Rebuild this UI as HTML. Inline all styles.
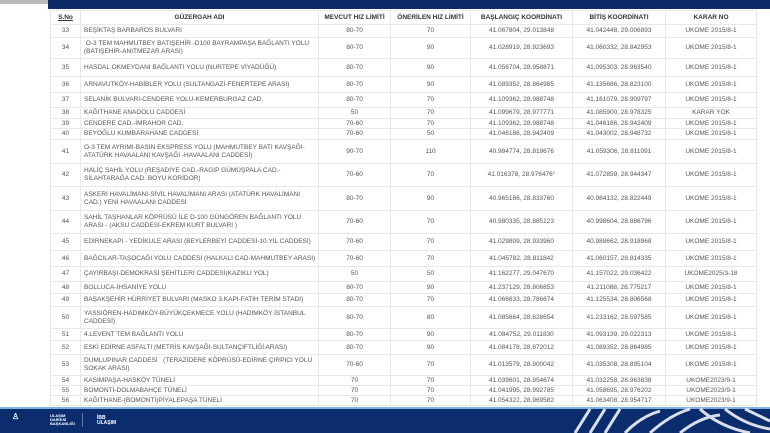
<!DOCTYPE html>
<html><head><meta charset="utf-8"><style>
*{margin:0;padding:0;box-sizing:border-box}
body{width:770px;height:433px;overflow:hidden;background:#fff;font-family:"Liberation Sans",sans-serif;position:relative}
.topg{position:absolute;left:0;top:0;width:48px;height:4px;background:#bbb}
.top{position:absolute;left:48px;top:0;width:722px;height:9px;background:#0d2b66}
table{position:absolute;left:50px;top:10px;border-collapse:collapse;table-layout:fixed;width:706px}
td,th{border:1px solid #e8e8e8;font-size:6.5px;color:#555;text-align:center;vertical-align:middle;line-height:8px;padding:0 2px;overflow:hidden;white-space:nowrap}
th{color:#333;font-weight:bold}
td.n{text-align:left;padding-left:3px}
.foot{position:absolute;left:0;top:407px;width:770px;height:26px;background:#0b2d6e}
.foot .c{position:absolute;left:0;top:0;width:770px;height:2px;background:#7fb3e0}
.logo{position:absolute;color:#fff;font-size:4px;font-weight:bold;line-height:4px}
</style></head><body>
<div class="topg"></div><div class="top"></div>
<table>
<colgroup><col style="width:30px"><col style="width:238px"><col style="width:72px"><col style="width:80px"><col style="width:102px"><col style="width:93px"><col style="width:91px"></colgroup>
<tr style="height:14px"><th><u>S.No</u></th><th>GÜZERGAH ADI</th><th>MEVCUT HIZ LİMİTİ</th><th>ÖNERİLEN HIZ LİMİTİ</th><th>BAŞLANGIÇ KOORDİNATI</th><th>BİTİŞ KOORDİNATI</th><th>KARAR NO</th></tr>
<tr style="height:13px"><td>33</td><td class="n">BEŞİKTAŞ BARBAROS BULVARI</td><td>80-70</td><td>70</td><td>41.067804, 29.013848</td><td>41.042448, 29.006893</td><td>UKOME 2015/8-1</td></tr>
<tr style="height:21px"><td>34</td><td class="n">&nbsp;O-3 TEM MAHMUTBEY BATIŞEHİR -D100 BAYRAMPAŞA BAĞLANTI YOLU<br>(BATIŞEHİR-ANITMEZAR ARASI)</td><td>80-70</td><td>90</td><td>41.028919, 28.923693</td><td>41.060332, 28.842953</td><td>UKOME 2015/8-1</td></tr>
<tr style="height:18px"><td>35</td><td class="n">HASDAL OKMEYDANI BAĞLANTI YOLU (NURTEPE VİYADÜĞÜ)</td><td>80-70</td><td>90</td><td>41.056704, 28.958871</td><td>41.095303, 28.963540</td><td>UKOME 2015/8-1</td></tr>
<tr style="height:16px"><td>36</td><td class="n">ARNAVUTKÖY-HABİBLER YOLU (SULTANGAZİ-FENERTEPE ARASI)</td><td>80-70</td><td>90</td><td>41.089352, 28.864985</td><td>41.135686, 28.823100</td><td>UKOME 2015/8-1</td></tr>
<tr style="height:15px"><td>37</td><td class="n">SELANİK BULVARI-CENDERE YOLU-KEMERBURGAZ CAD.</td><td>80-70</td><td>70</td><td>41.109362, 28.988748</td><td>41.161079, 28.909797</td><td>UKOME 2015/8-1</td></tr>
<tr style="height:11px"><td>38</td><td class="n">KAĞITHANE ANADOLU CADDESİ</td><td>50</td><td>70</td><td>41.099679, 28.977771</td><td>41.085900, 28.978325</td><td>KARAR YOK</td></tr>
<tr style="height:10px"><td>39</td><td class="n">CENDERE CAD.-İMRAHOR CAD.</td><td>70-60</td><td>70</td><td>41.109362, 28.988748</td><td>41.046186, 28.942409</td><td>UKOME 2015/8-1</td></tr>
<tr style="height:11px"><td>40</td><td class="n">BEYOĞLU KUMBARAHANE CADDESİ</td><td>70-60</td><td>50</td><td>41.046186, 28.942409</td><td>41.043002, 28.948732</td><td>UKOME 2015/8-1</td></tr>
<tr style="height:24px"><td>41</td><td class="n">O-3 TEM AYRIMI-BASIN EKSPRESS YOLU (MAHMUTBEY BATI KAVŞAĞI-<br>ATATÜRK HAVAALANI KAVŞAĞI -HAVAALANI CADDESİ)</td><td>90-70</td><td>110</td><td>40.984774, 28.819676</td><td>41.059306, 28.811091</td><td>UKOME 2015/8-1</td></tr>
<tr style="height:23px"><td>42</td><td class="n">HALİÇ SAHİL YOLU (REŞADİYE CAD.-RAGIP GÜMÜŞPALA CAD.-<br>SİLAHTARAĞA CAD. BOYU KORİDOR)</td><td>70-60</td><td>70</td><td>41.016378, 28.976476°</td><td>41.072859, 28.944347</td><td>UKOME 2015/8-1</td></tr>
<tr style="height:24px"><td>43</td><td class="n">ASKERİ HAVALİMANI-SİVİL HAVALİMANI ARASI (ATATÜRK HAVALİMANI<br>CAD.) YENİ HAVAALANI CADDESİ</td><td>80-70</td><td>90</td><td>40.965166, 28.833760</td><td>40.984132, 28.822449</td><td>UKOME 2015/8-1</td></tr>
<tr style="height:23px"><td>44</td><td class="n">SAHİL TAŞHANLAR KÖPRÜSÜ İLE D-100 GÜNGÖREN BAĞLANTI YOLU<br>ARASI - (AKSU CADDESİ-EKREM KURT BULVARI )</td><td>70-60</td><td>70</td><td>40.980335, 28.885123</td><td>40.998604, 28.886796</td><td>UKOME 2015/8-1</td></tr>
<tr style="height:17px"><td>45</td><td class="n">EDİRNEKAPI - YEDİKULE ARASI (BEYLERBEYİ CADDESİ-10.YIL CADDESİ)</td><td>70-60</td><td>70</td><td>41.029809, 28.933960</td><td>40.988662, 28.918968</td><td>UKOME 2015/8-1</td></tr>
<tr style="height:16px"><td>46</td><td class="n">BAĞCILAR-TAŞOCAĞI YOLU CADDESİ (HALKALI CAD-MAHMUTBEY ARASI)</td><td>70-60</td><td>70</td><td>41.045782, 28.811842</td><td>41.060157, 28.814335</td><td>UKOME 2015/8-1</td></tr>
<tr style="height:15px"><td>47</td><td class="n">ÇAYIRBAŞI-DEMOKRASİ ŞEHİTLERİ CADDESİ(KAZIKLI YOL)</td><td>50</td><td>50</td><td>41.162277, 29.047670</td><td>41.157022, 29.036422</td><td>UKOME2025/3-18</td></tr>
<tr style="height:12px"><td>48</td><td class="n">BOLLUCA-İHSANİYE YOLU</td><td>80-70</td><td>90</td><td>41.237129, 28.806853</td><td>41.211088, 28.775217</td><td>UKOME 2015/8-1</td></tr>
<tr style="height:13px"><td>49</td><td class="n">BAŞAKŞEHİR HÜRRİYET BULVARI (MASKO 3.KAPI-FATİH TERİM STADI)</td><td>80-70</td><td>70</td><td>41.066633, 28.786674</td><td>41.125534, 28.806568</td><td>UKOME 2015/8-1</td></tr>
<tr style="height:22px"><td>50</td><td class="n">YASSIÖREN-HADIMKÖY-BÜYÜKÇEKMECE YOLU (HADIMKÖY İSTANBUL<br>CADDESİ)</td><td>80-70</td><td>80</td><td>41.085664, 28.628654</td><td>41.233162, 28.597585</td><td>UKOME 2015/8-1</td></tr>
<tr style="height:12px"><td>51</td><td class="n">4.LEVENT TEM BAĞLANTI YOLU</td><td>80-70</td><td>90</td><td>41.084752, 29.011830</td><td>41.093139, 29.022313</td><td>UKOME 2015/8-1</td></tr>
<tr style="height:14px"><td>52</td><td class="n">ESKİ EDİRNE ASFALTI (METRİS KAVŞAĞI-SULTANÇİFTLİĞİ ARASI)</td><td>80-70</td><td>90</td><td>41.084178, 28.872012</td><td>41.089352, 28.864985</td><td>UKOME 2015/8-1</td></tr>
<tr style="height:21px"><td>53</td><td class="n">DUMLUPINAR CADDESİ &nbsp; (TERAZİDERE KÖPRÜSÜ-EDİRNE ÇIRPICI YOLU<br>SOKAK ARASI)</td><td>70-60</td><td>70</td><td>41.013579, 28.900042</td><td>41.035308, 28.895104</td><td>UKOME 2015/8-1</td></tr>
<tr style="height:10px"><td>54</td><td class="n">KASIMPAŞA-HASKÖY TÜNELİ</td><td>70</td><td>70</td><td>41.039601, 28.954674</td><td>41.032258, 28.963838</td><td>UKOME2023/9-1</td></tr>
<tr style="height:10px"><td>55</td><td class="n">BOMONTİ-DOLMABAHÇE TÜNELİ</td><td>70</td><td>70</td><td>41.041995, 28.992785</td><td>41.058695, 28.976202</td><td>UKOME2023/9-1</td></tr>
<tr style="height:10px"><td>56</td><td class="n">KAĞITHANE-(BOMONTİ)PİYALEPAŞA TÜNELİ</td><td>70</td><td>70</td><td>41.054322, 28.969582</td><td>41.063408, 28.954717</td><td>UKOME2023/9-1</td></tr>
</table>
<div class="foot"><div class="c"></div>
<svg width="770" height="26" style="position:absolute;left:0;top:0">
<g stroke="#fff" stroke-width="3" opacity="0.85" fill="none">
<path d="M575 26 L590 2"/><path d="M590 26 L605 2"/><path d="M605 26 L620 2"/><path d="M625 26 Q640 10 660 4"/><path d="M650 26 Q670 8 690 2"/><path d="M680 26 Q700 10 720 8"/><path d="M700 2 Q720 20 750 26"/><path d="M725 2 Q745 18 770 22"/><path d="M745 2 L770 14"/>
</g></svg>
<div class="logo" style="left:12px;top:8px;font-size:8px">♙</div>
<div class="logo" style="left:50px;top:7px">ULAŞIM<br>DAİRESİ<br>BAŞKANLIĞI</div>
<div style="position:absolute;left:82px;top:6px;width:1px;height:14px;background:#5a77aa"></div>
<div class="logo" style="left:97px;top:9px;font-size:5px;line-height:5px">İBB<br>ULAŞIM</div>
</div>
</body></html>
